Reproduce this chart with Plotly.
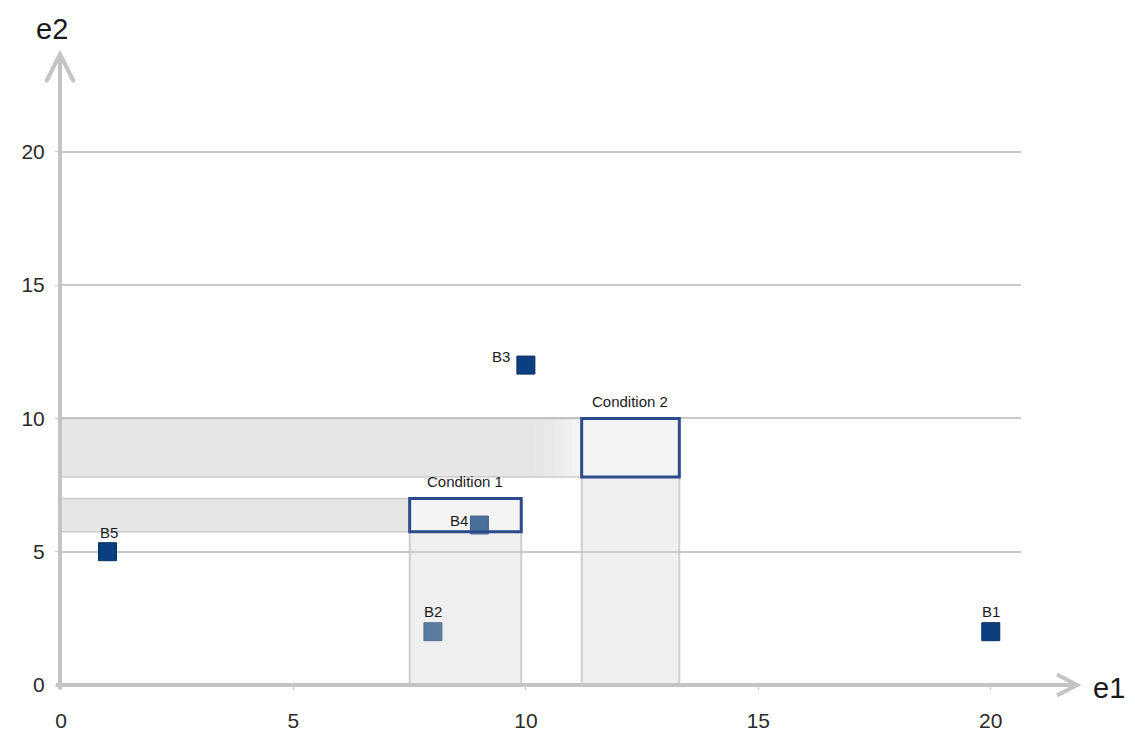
import plotly.graph_objects as go

# Data
point_names = ["B1", "B2", "B3", "B4", "B5"]
point_e1 = [20, 8, 10, 9, 1]
point_e2 = [2, 2, 12, 6, 5]

cond_names = ["Condition 1", "Condition 2"]
cond_e1_min = [7.5, 11.2]
cond_e1_max = [9.9, 13.3]
cond_e2_min = [5.75, 7.8]
cond_e2_max = [7.0, 10.0]

x_ticks = [0, 5, 10, 15, 20]
y_ticks = [0, 5, 10, 15, 20]

# label offsets (pixels) for point names
lab_dx = [0, 0, -25, -20, 2]
lab_dy = [20, 20, 9, 5, 19]

W, H = 1135, 736
L, R, T, B = 53, 122, 123, 47
XR = [0, 20.65]
YR = [0, 20.78]
pw, ph = W - L - R, H - T - B


def px(xobs):
    xplan = xobs - 7
    return (xplan - L) / pw


def py(yobs):
    yplan = (yobs - 9.2) / 0.9815
    return (H - B - yplan) / ph


FONT = "Liberation Sans, Arial"

fig = go.Figure()

fig.add_trace(go.Scatter(
    x=point_e1, y=point_e2, mode="markers",
    marker=dict(symbol="square", size=18, color="#0b3f7f",
                line=dict(width=1, color="#08305f")),
    showlegend=False, cliponaxis=False, hoverinfo="text", text=point_names,
))

shapes = []
band_line = "rgba(180,180,180,0.6)"
fade_steps = [0.45, 0.40, 0.34, 0.28, 0.22]
for i in range(len(cond_names)):
    # horizontal band from e2 axis to condition
    if i == 0:
        shapes.append(dict(type="rect", xref="x", yref="y",
                           x0=0, x1=cond_e1_min[i], y0=cond_e2_min[i], y1=cond_e2_max[i],
                           fillcolor="rgba(200,200,200,0.45)", line=dict(width=0),
                           layer="above"))
    else:
        fade_start = cond_e1_min[i] - 1.0
        shapes.append(dict(type="rect", xref="x", yref="y",
                           x0=0, x1=fade_start, y0=cond_e2_min[i], y1=cond_e2_max[i],
                           fillcolor="rgba(200,200,200,0.45)", line=dict(width=0),
                           layer="above"))
        n = len(fade_steps)
        for k, a in enumerate(fade_steps):
            shapes.append(dict(type="rect", xref="x", yref="y",
                               x0=fade_start + k * 1.0 / n, x1=fade_start + (k + 1) * 1.0 / n,
                               y0=cond_e2_min[i], y1=cond_e2_max[i],
                               fillcolor=f"rgba(200,200,200,{a})", line=dict(width=0),
                               layer="above"))
    shapes.append(dict(type="line", xref="x", yref="y",
                       x0=0, x1=cond_e1_min[i], y0=cond_e2_min[i], y1=cond_e2_min[i],
                       line=dict(width=1.5, color=band_line), layer="above"))
    shapes.append(dict(type="line", xref="x", yref="y",
                       x0=0, x1=cond_e1_min[i], y0=cond_e2_max[i], y1=cond_e2_max[i],
                       line=dict(width=1.5, color=band_line), layer="above"))
    # vertical band from e1 axis to condition
    shapes.append(dict(type="rect", xref="x", yref="y",
                       x0=cond_e1_min[i], x1=cond_e1_max[i], y0=0, y1=cond_e2_min[i],
                       fillcolor="rgba(215,215,215,0.4)", line=dict(width=2, color=band_line),
                       layer="above"))
    # condition box
    shapes.append(dict(type="rect", xref="x", yref="y",
                       x0=cond_e1_min[i], x1=cond_e1_max[i], y0=cond_e2_min[i], y1=cond_e2_max[i],
                       fillcolor="rgba(220,220,220,0.3)",
                       line=dict(width=3, color="#2d4a8c"), layer="above"))

# axis lines with arrow chevrons
axis_col = "#c4c4c4"
shapes.append(dict(type="line", xref="paper", yref="paper",
                   x0=px(59), x1=px(59), y0=py(690), y1=py(53),
                   line=dict(width=4, color=axis_col), layer="above"))
shapes.append(dict(type="path", xref="paper", yref="paper",
                   path=f"M {px(45)} {py(81)} L {px(59)} {py(53)} L {px(73)} {py(81)}",
                   line=dict(width=4, color=axis_col), layer="above"))
shapes.append(dict(type="line", xref="paper", yref="paper",
                   x0=px(55), x1=px(1076), y0=py(685.5), y1=py(685.5),
                   line=dict(width=4, color=axis_col), layer="above"))
shapes.append(dict(type="path", xref="paper", yref="paper",
                   path=f"M {px(1056)} {py(675)} L {px(1076)} {py(685.5)} L {px(1056)} {py(696)}",
                   line=dict(width=4, color=axis_col), layer="above"))

annotations = []
for i, name in enumerate(point_names):
    annotations.append(dict(x=point_e1[i], y=point_e2[i], xref="x", yref="y",
                            text=name, showarrow=False, xanchor="center", yanchor="middle",
                            xshift=lab_dx[i], yshift=lab_dy[i],
                            font=dict(family=FONT, size=15, color="#1a1a1a")))
for i, name in enumerate(cond_names):
    annotations.append(dict(x=(cond_e1_min[i] + cond_e1_max[i]) / 2, y=cond_e2_max[i],
                            xref="x", yref="y", text=name, showarrow=False,
                            xanchor="center", yanchor="bottom", yshift=6,
                            font=dict(family=FONT, size=15, color="#1a1a1a")))
annotations.append(dict(x=px(1108), y=py(688), xref="paper", yref="paper", text="e1",
                        showarrow=False, xanchor="center", yanchor="middle",
                        font=dict(family=FONT, size=29, color="#1a1a1a")))
annotations.append(dict(x=px(51), y=py(28), xref="paper", yref="paper", text="e2",
                        showarrow=False, xanchor="center", yanchor="middle",
                        font=dict(family=FONT, size=29, color="#1a1a1a")))

fig.update_layout(
    width=W, height=H, autosize=False,
    margin=dict(l=L, r=R, t=T, b=B),
    paper_bgcolor="white", plot_bgcolor="white",
    shapes=shapes, annotations=annotations,
    xaxis=dict(range=XR, tickvals=x_ticks, showgrid=False, zeroline=False,
               showline=False, ticks="outside", ticklen=4, tickcolor="#cccccc",
               ticklabelstandoff=13,
               tickfont=dict(family=FONT, size=21, color="#2a2a2a")),
    yaxis=dict(range=YR, tickvals=y_ticks, showgrid=True, gridcolor="#c9c9c9",
               gridwidth=1.5, zeroline=False, showline=False,
               ticks="outside", ticklen=5, tickcolor="#cccccc", ticklabelstandoff=6,
               tickfont=dict(family=FONT, size=21, color="#2a2a2a")),
)

fig.write_html("out.html")
